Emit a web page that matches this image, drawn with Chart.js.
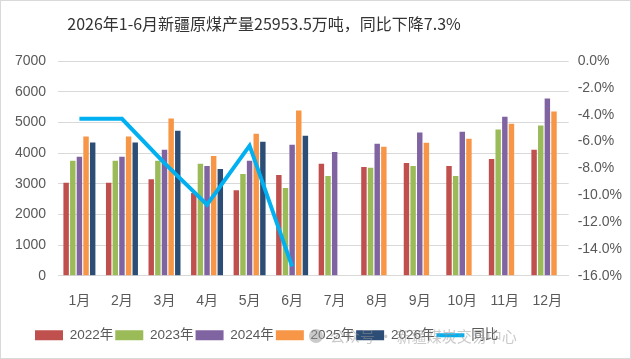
<!DOCTYPE html>
<html lang="zh">
<head>
<meta charset="UTF-8">
<title>新疆原煤产量</title>
<script src="https://cdn.jsdelivr.net/npm/chart.js"></script>
<style>
  html, body { margin: 0; padding: 0; background: #fff; }
  #wrap { width: 631px; height: 359px; }
</style>
</head>
<body>
<div id="wrap"><canvas id="myChart" width="631" height="359"></canvas></div>
<script>
  // 月份
  const months = ['1月', '2月', '3月', '4月', '5月', '6月', '7月', '8月', '9月', '10月', '11月', '12月'];

  // 原煤产量（万吨），读图估值
  const y2022 = [3030, 3030, 3150, 2700, 2790, 3290, 3650, 3550, 3680, 3580, 3810, 4110];
  const y2023 = [3750, 3750, 3750, 3650, 3320, 2860, 3250, 3520, 3580, 3250, 4770, 4900];
  const y2024 = [3880, 3880, 4110, 3580, 3750, 4270, 4040, 4310, 4670, 4700, 5190, 5780];
  const y2025 = [4540, 4540, 5130, 3910, 4630, 5390, null, 4210, 4340, 4470, 4960, 5360];
  const y2026 = [4350, 4350, 4730, 3480, 4370, 4570, null, null, null, null, null, null];

  // 同比（%）
  const yoy = [-4.3, -4.3, -7.6, -10.7, -6.3, -15.3, null, null, null, null, null, null];

  const leftTicks = [0, 1000, 2000, 3000, 4000, 5000, 6000, 7000];
  const rightTicks = [-16, -14, -12, -10, -8, -6, -4, -2, 0];

  const cjk = "'Noto Sans CJK SC', sans-serif";
  const font = "'Liberation Sans', 'Noto Sans CJK SC', sans-serif";
  const gray = '#595959';

  function barSet(label, data, color) {
    return {
      type: 'bar',
      label,
      data,
      backgroundColor: color,
      borderColor: color,
      borderWidth: 0,
      pointStyle: 'rect',
      yAxisID: 'y',
      categoryPercentage: 0.78,
      barPercentage: 0.82,
      order: 2
    };
  }

  // 标题、图例位置与原图对齐
  const placeBlocks = {
    id: 'placeBlocks',
    afterLayout(chart) {
      const t = chart.titleBlock;
      if (t) { t.left -= 106; }
      const lg = chart.legend;
      if (lg) { lg.left = 35 - lg.options.labels.padding; }
    }
  };

  const frame = {
    id: 'frame',
    afterDraw(chart) {
      const ctx = chart.ctx;
      ctx.save();
      // 水印
      ctx.fillStyle = 'rgba(150,150,150,0.5)';
      ctx.beginPath();
      ctx.arc(316, 336, 7, 0, Math.PI * 2);
      ctx.fill();
      ctx.font = '15px ' + cjk;
      ctx.textBaseline = 'middle';
      ctx.fillText('公众号 · 新疆煤炭交易中心', 330, 336);
      // 外框
      ctx.strokeStyle = '#d9d9d9';
      ctx.lineWidth = 1;
      ctx.strokeRect(0.5, 0.5, chart.width - 1, chart.height - 1);
      ctx.restore();
    }
  };

  const config = {
    data: {
      labels: months,
      datasets: [
        {
          type: 'line',
          label: '同比',
          data: yoy,
          borderColor: '#00B0F0',
          backgroundColor: '#00B0F0',
          borderWidth: 4,
          pointRadius: 0,
          pointStyle: 'line',
          tension: 0,
          yAxisID: 'y1',
          order: 1
        },
        barSet('2022年', y2022, '#C0504D'),
        barSet('2023年', y2023, '#9BBB59'),
        barSet('2024年', y2024, '#8064A2'),
        barSet('2025年', y2025, '#F79646'),
        barSet('2026年', y2026, '#2C4D75')
      ]
    },
    options: {
      responsive: false,
      animation: false,
      layout: { padding: { left: 3, right: 0, top: 6, bottom: 7 } },
      plugins: {
        title: {
          display: true,
          text: '2026年1-6月新疆原煤产量25953.5万吨，同比下降7.3%',
          color: '#333',
          font: { family: cjk, size: 16, weight: 'normal' },
          padding: { top: 8, bottom: 28 }
        },
        legend: {
          position: 'bottom',
          align: 'start',
          labels: {
            // 同比放最后
            sort: (a, b) => (a.datasetIndex === 0 ? 1 : 0) - (b.datasetIndex === 0 ? 1 : 0),
            usePointStyle: true,
            pointStyleWidth: 28,
            boxHeight: 10,
            color: gray,
            padding: 2,
            font: { family: font, size: 13.5 }
          }
        },
        tooltip: { enabled: false }
      },
      scales: {
        x: {
          grid: { display: false },
          border: { color: '#d9d9d9' },
          ticks: { color: gray, font: { family: font, size: 14 }, maxRotation: 0, padding: 9 },
          afterFit: axis => { axis.height += 8; }
        },
        y: {
          position: 'left',
          min: 0,
          max: 7000,
          afterBuildTicks: axis => { axis.ticks = leftTicks.map(v => ({ value: v })); },
          grid: { color: '#d9d9d9', drawTicks: false },
          border: { display: false },
          ticks: {
            color: gray,
            font: { family: font, size: 14 },
            padding: 12,
            callback: v => String(v)
          }
        },
        y1: {
          position: 'right',
          min: -16,
          max: 0,
          afterBuildTicks: axis => { axis.ticks = rightTicks.map(v => ({ value: v })); },
          grid: { display: false, drawTicks: false },
          border: { display: false },
          ticks: {
            color: gray,
            font: { family: font, size: 14 },
            padding: 9,
            callback: v => v.toFixed(1) + '%'
          }
        }
      }
    },
    plugins: [placeBlocks, frame]
  };

  new Chart(document.getElementById('myChart'), config);
</script>
</body>
</html>
